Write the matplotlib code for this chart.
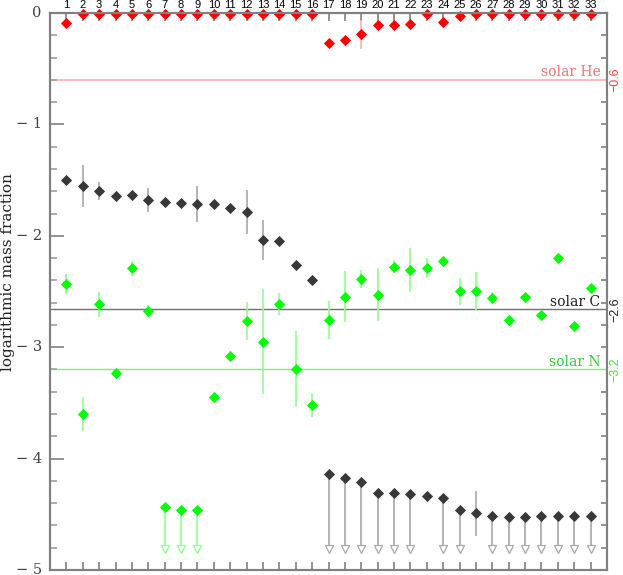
import numpy as np
import matplotlib
matplotlib.use("Agg")
import matplotlib.pyplot as plt
from matplotlib.ticker import MultipleLocator

idx = np.arange(1, 34)

# log mass fractions
he = [-0.09] + [-0.012] * 15 + [-0.27, -0.24, -0.19, -0.105, -0.105, -0.096,
                                  -0.008, -0.078, -0.027] + [-0.008] * 8
he_err = [0] * 18 + [0.13] + [0] * 14

carbon = [-1.50, -1.55, -1.60, -1.64, -1.637, -1.68, -1.70, -1.71, -1.717, -1.715,
          -1.747, -1.786, -2.038, -2.044, -2.26, -2.397,
          -4.138, -4.171, -4.207, -4.312, -4.309, -4.321, -4.333, -4.357, -4.461,
          -4.491, -4.512, -4.521, -4.521, -4.518, -4.518, -4.518, -4.518]
carbon_err = [0, 0.19, 0.08, 0, 0, 0.11, 0, 0, 0.16, 0, 0, 0.2, 0.18, 0, 0, 0,
              0, 0, 0, 0, 0, 0, 0, 0, 0, 0.2, 0, 0, 0, 0, 0, 0, 0]
carbon_lim = [0] * 16 + [1, 1, 1, 1, 1, 1, 0, 1, 1, 0, 1, 1, 1, 1, 1, 1, 1]

nitrogen = [-2.436, -3.60, -2.615, -3.234, -2.292, -2.675, -4.437, -4.458, -4.458,
            -3.444, -3.076, -2.765, -2.95, -2.615, -3.196, -3.519,
            -2.756, -2.547, -2.388, -2.529, -2.277, -2.307, -2.289, -2.226, -2.498,
            -2.498, -2.556, -2.759, -2.55, -2.708, -2.196, -2.807, -2.466]
nitrogen_err = [0.09, 0.15, 0.11, 0, 0.07, 0.05, 0, 0, 0, 0, 0, 0.17, 0.47, 0.1,
                0.34, 0.11, 0.17, 0.23, 0.08, 0.24, 0.06, 0.2, 0.09, 0, 0.12,
                0.17, 0.05, 0.05, 0, 0, 0, 0, 0]
nitrogen_lim = [0] * 6 + [1, 1, 1] + [0] * 24

solar_he, solar_c, solar_n = -0.6, -2.66, -3.2
lim_floor = -4.81

serif = ["DejaVu Serif"]
sans = ["Liberation Sans", "DejaVu Sans"]

fig = plt.figure(figsize=(6.23, 5.75), dpi=100)
ax = fig.add_axes([50 / 623, 5 / 575, 557 / 623, 557 / 575])

ax.axhline(solar_he, color="#ffb0b0", lw=1.2, zorder=1)
ax.axhline(solar_c, color="#707070", lw=1.0, zorder=1)
ax.axhline(solar_n, color="#66ff66", lw=1.0, zorder=1)


def draw(vals, errs, lims, col, ecol):
    vals = np.array(vals)
    errs = np.array(errs)
    m = errs > 0
    ax.errorbar(idx[m], vals[m], yerr=errs[m], fmt="none", ecolor=ecol,
                elinewidth=1.2, capsize=0, zorder=2)
    if lims is not None:
        lims = np.array(lims, bool)
        ax.vlines(idx[lims], lim_floor, vals[lims], color=ecol, lw=1.2, zorder=2)
        ax.plot(idx[lims], np.full(lims.sum(), lim_floor), "v", ms=6,
                mfc="white", mec=ecol, mew=0.9, ls="none", zorder=3)
    ax.plot(idx, vals, "D", color=col, ms=4.8, mew=0.6, ls="none", zorder=4,
            clip_on=False)


draw(he, he_err, None, "#ff0000", "#ffb0b0")
draw(carbon, carbon_err, carbon_lim, "#383838", "#a8a8a8")
draw(nitrogen, nitrogen_err, nitrogen_lim, "#00ff00", "#90ff90")

ax.set_xlim(0, 34)
ax.set_ylim(-5, 0)

for s in ax.spines.values():
    s.set_color("#808080")
    s.set_linewidth(1.5)

ax.set_xticks(idx)
ax.set_xticklabels([str(i) for i in idx], fontfamily=sans, fontsize=8)
ax.tick_params(axis="x", direction="in", top=True, bottom=True,
               labeltop=True, labelbottom=False, length=6, color="#808080",
               width=1.2, pad=2)
ax.yaxis.set_major_locator(MultipleLocator(1))
ax.yaxis.set_minor_locator(MultipleLocator(0.2))
ax.set_yticklabels([])
ax.tick_params(axis="y", which="major", direction="in", length=10,
               color="#808080", width=1.2, left=True, right=False)
ax.tick_params(axis="y", which="minor", direction="in", length=5,
               color="#a0a0a0", width=1.2, left=True, right=False)
for v in range(0, -6, -1):
    ax.text(-0.5, v, "0" if v == 0 else "\u2212 %d" % -v, ha="right", va="center",
            fontfamily=serif, fontsize=10.5, color="#404040")

ax.set_ylabel("logarithmic mass fraction", fontfamily=serif, fontsize=11,
              color="#202020")
ax.yaxis.set_label_coords(-0.063, 0.535)

# right axis: solar reference values
ax2 = ax.twinx()
ax2.set_ylim(-5, 0)
ax2.yaxis.set_minor_locator(MultipleLocator(0.2))
ax2.set_yticks([solar_he, solar_c, solar_n])
ax2.set_yticklabels(["\u22120.6", "\u22122.6", "\u22123.2"], rotation=90,
                    va="center", fontfamily=sans, fontsize=9)
for lab, c in zip(ax2.get_yticklabels(), ["#ff4040", "#202020", "#40e040"]):
    lab.set_color(c)
ax2.tick_params(axis="y", which="major", length=0, pad=1.5)
ax2.tick_params(axis="y", which="minor", direction="in", length=4,
                color="#808080", width=1.2)
for s in ax2.spines.values():
    s.set_color("#808080")
    s.set_linewidth(1.5)

ax.text(33.6, solar_he + 0.005, "solar He", ha="right", va="bottom",
        fontfamily=serif, fontsize=10, color="#ff7070")
ax.text(33.6, solar_c + 0.005, "solar C", ha="right", va="bottom",
        fontfamily=serif, fontsize=10, color="#202020")
ax.text(33.6, solar_n + 0.005, "solar N", ha="right", va="bottom",
        fontfamily=serif, fontsize=10, color="#30d030")

fig.savefig("out.png", dpi=100)
